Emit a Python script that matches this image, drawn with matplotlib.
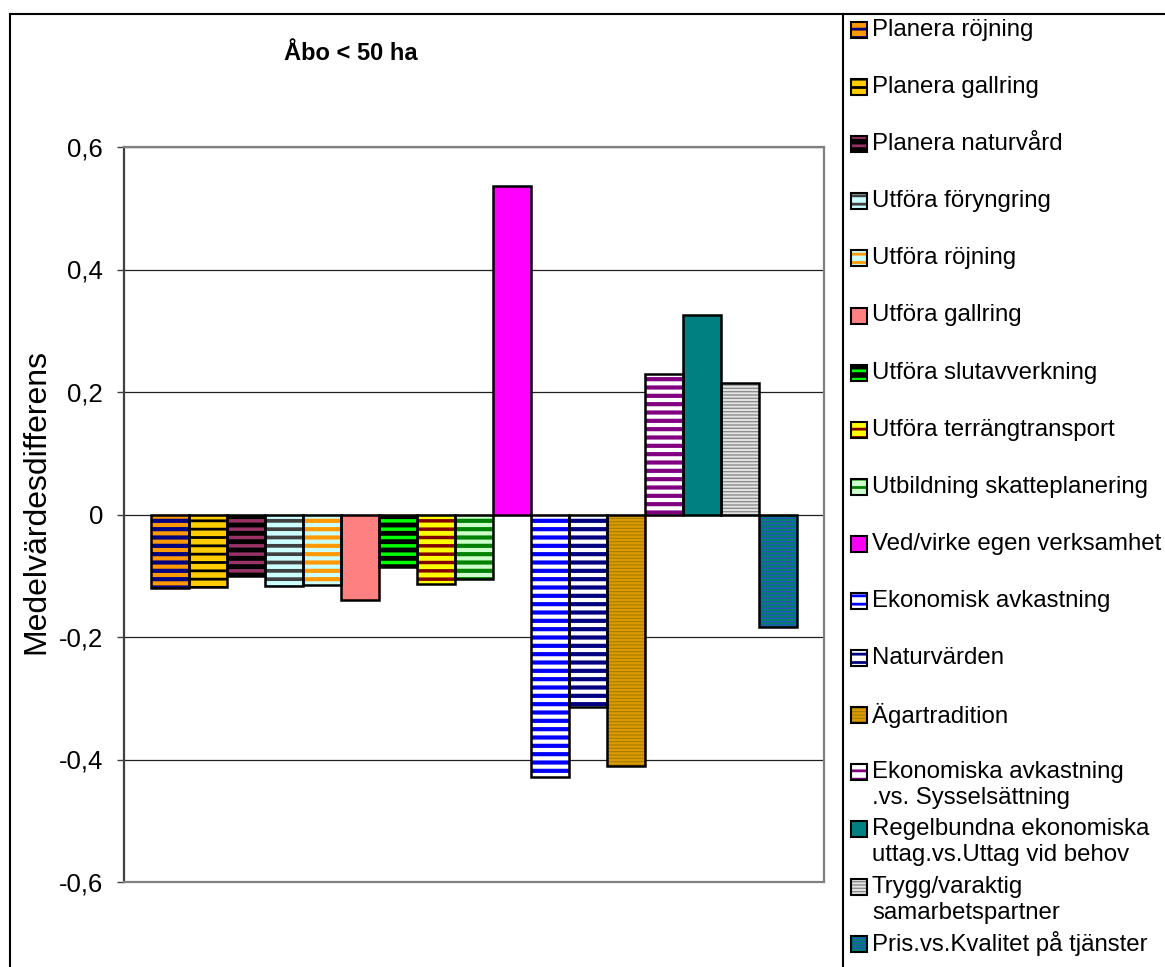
import numpy as np
import matplotlib
matplotlib.use("Agg")
import matplotlib.pyplot as plt
from matplotlib.patches import Rectangle
from matplotlib.lines import Line2D

plt.rcParams['font.family'] = ['Liberation Sans', 'DejaVu Sans']

# series (one bar per series, all in the same category)
labels = ['Planera röjning', 'Planera gallring', 'Planera naturvård',
          'Utföra föryngring', 'Utföra röjning', 'Utföra gallring',
          'Utföra slutavverkning', 'Utföra terrängtransport',
          'Utbildning skatteplanering', 'Ved/virke egen verksamhet',
          'Ekonomisk avkastning', 'Naturvärden', 'Ägartradition',
          'Ekonomiska avkastning\n.vs. Sysselsättning',
          'Regelbundna ekonomiska\nuttag.vs.Uttag vid behov',
          'Trygg/varaktig\nsamarbetspartner',
          'Pris.vs.Kvalitet på tjänster']
values = [-0.120, -0.118, -0.100, -0.117, -0.115, -0.139, -0.086, -0.114,
          -0.105, 0.536, -0.428, -0.314, -0.411, 0.230, 0.326, 0.214, -0.184]
yticks = [-0.6, -0.4, -0.2, 0, 0.2, 0.4, 0.6]
ytick_labels = ['-0,6', '-0,4', '-0,2', '0', '0,2', '0,4', '0,6']
title = 'Åbo < 50 ha'
ylabel = 'Medelvärdesdifferens'

# fill styles: background, stripe colour, hatch, stripe width (pt)
face = ['#FF9900', '#FFCC00', '#000000', '#CCFFFF', '#CCFFFF', '#FF8080',
        '#000000', '#FFFF00', '#CCFFCC', '#FF00FF', '#FFFFFF', '#FFFFFF',
        '#DA9A00', '#FFFFFF', '#008080', '#E4E4E4', '#00806A']
stripe = ['#000080', '#000000', '#993366', '#404040', '#FF9900', '#FF8080',
          '#00FF00', '#800000', '#008000', '#FF00FF', '#0000FF', '#000080',
          '#A07800', '#800080', '#008080', '#8C8C8C', '#2A50C8']
hatch = ['--', '--', '--', '--', '--', None, '--', '--', '--', None, '--', '--',
         '-----', '--', None, '-----', '-----']
hlw = [3.0, 2.0, 2.5, 2.7, 3.0, 1, 2.5, 2.5, 3.0, 1, 3.0, 3.0, 0.7, 3.0, 1, 1.0, 0.9]

W, H = 1165, 967
fig = plt.figure(figsize=(W / 100, H / 100), dpi=100)
ax = fig.add_axes([124 / W, 1 - 882 / H, 700 / W, 735 / H])


def striped(patch, lw):
    if hasattr(patch, 'set_hatch_linewidth'):
        patch.set_hatch_linewidth(lw)


x = np.arange(len(values))
for i in range(len(values)):
    with plt.rc_context({'hatch.linewidth': hlw[i]}):
        b = ax.bar(x[i], values[i], width=1.0, color=face[i], edgecolor=stripe[i],
                   hatch=hatch[i], linewidth=0, zorder=2)
    for p in b:
        striped(p, hlw[i])
ax.bar(x, values, width=1.0, facecolor='none', edgecolor='black', linewidth=1.8, zorder=3)

ax.set_xlim(-0.5 - 0.72, len(values) - 0.5 + 0.72)
ax.set_ylim(-0.6, 0.6)
ax.set_yticks(yticks)
ax.set_yticklabels(ytick_labels)
ax.set_xticks([])
ax.yaxis.grid(True, color='#202020', linewidth=0.9)
ax.set_axisbelow(True)
for s in ax.spines.values():
    s.set_color('#808080')
    s.set_linewidth(1.6)
ax.spines['left'].set_color('#404040')
ax.tick_params(axis='y', direction='out', length=5, width=1, color='#404040',
               labelsize=18.5, pad=10)

fig.text(351 / W, 1 - 54 / H, title, ha='center', va='center', fontsize=17,
         fontweight='bold')
fig.text(36 / W, 1 - 501 / H, ylabel, ha='center', va='center', rotation=90,
         fontsize=23)

# frame around chart and legend
fig.add_artist(Line2D([10 / W, 10 / W], [0, 1 - 14 / H], transform=fig.transFigure,
                      color='black', lw=1.5))
fig.add_artist(Line2D([10 / W, 1], [1 - 14 / H, 1 - 14 / H], transform=fig.transFigure,
                      color='black', lw=1.5))
fig.add_artist(Line2D([843 / W, 843 / W], [0, 1 - 14 / H], transform=fig.transFigure,
                      color='black', lw=1.5))

# legend, one entry per series, first line on a fixed step
y0, step, line_h = 30, 57.1, 26
for i, lab in enumerate(labels):
    yc = y0 + i * step
    with plt.rc_context({'hatch.linewidth': min(hlw[i], 2.0)}):
        r = Rectangle((851 / W, 1 - (yc + 8) / H), 16 / W, 16 / H, transform=fig.transFigure,
                      facecolor=face[i], edgecolor=stripe[i], hatch=hatch[i], linewidth=0)
    striped(r, min(hlw[i], 2.0))
    fig.add_artist(r)
    fig.add_artist(Rectangle((851 / W, 1 - (yc + 8) / H), 16 / W, 16 / H,
                             transform=fig.transFigure, facecolor='none',
                             edgecolor='black', linewidth=1.5))
    for k, part in enumerate(lab.split('\n')):
        fig.text(872 / W, 1 - (yc + k * line_h) / H, part, ha='left', va='center',
                 fontsize=17.3)

fig.savefig('out.png', dpi=100)
